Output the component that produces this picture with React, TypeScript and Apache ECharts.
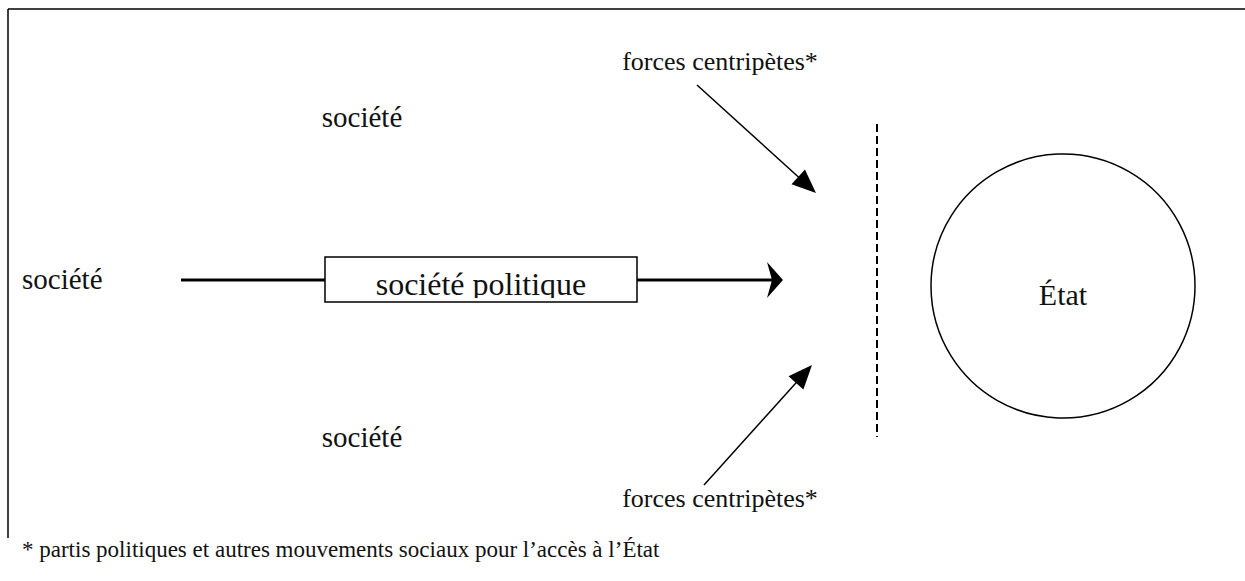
import React, { useEffect, useRef } from "react";
import * as echarts from "echarts";

const societyLabels = ["société", "société", "société"];
const boxLabel = "société politique";
const stateLabel = "État";
const forcesLabels = ["forces centripètes*", "forces centripètes*"];
const footnote = "* partis politiques et autres mouvements sociaux pour l’accès à l’État";

const FONT = "\"Liberation Serif\", \"Times New Roman\", serif";

function arrowHead(tx: number, ty: number, fx: number, fy: number, len: number, half: number) {
  const dx = tx - fx, dy = ty - fy;
  const d = Math.hypot(dx, dy);
  const ux = dx / d, uy = dy / d;
  const bx = tx - ux * len, by = ty - uy * len;
  return [
    [tx, ty],
    [bx - uy * half, by + ux * half],
    [bx + uy * half, by - ux * half],
  ];
}

export default function App() {
  const ref = useRef<HTMLDivElement>(null);
  useEffect(() => {
    document.body.style.margin = "0";
    const chart = echarts.init(ref.current!, null, { renderer: "svg" });
    const black = "#000";
    const txt = (text: string, x: number, y: number, size: number, align = "center") => ({
      type: "text",
      x,
      y,
      style: { text, font: `${size}px ${FONT}`, fill: "#111", align, verticalAlign: "middle" },
    });
    const topFrom = [697, 85], topTo = [816, 193];
    const botFrom = [704, 485], botTo = [812, 365];
    const topHead = arrowHead(topTo[0], topTo[1], topFrom[0], topFrom[1], 24, 10);
    const botHead = arrowHead(botTo[0], botTo[1], botFrom[0], botFrom[1], 24, 10);
    const topLineEnd = [topTo[0] - (topTo[0] - topFrom[0]) * 0.12, topTo[1] - (topTo[1] - topFrom[1]) * 0.12];
    const botLineEnd = [botTo[0] - (botTo[0] - botFrom[0]) * 0.12, botTo[1] - (botTo[1] - botFrom[1]) * 0.12];
    chart.setOption({
      animation: false,
      backgroundColor: "#fff",
      graphic: [
        { type: "line", shape: { x1: 8, y1: 9, x2: 1245, y2: 9 }, style: { stroke: black, lineWidth: 1.5 } },
        { type: "line", shape: { x1: 8, y1: 9, x2: 8, y2: 538 }, style: { stroke: black, lineWidth: 1.5 } },
        { type: "line", shape: { x1: 181, y1: 280, x2: 325, y2: 280 }, style: { stroke: black, lineWidth: 3 } },
        { type: "line", shape: { x1: 637, y1: 280, x2: 772, y2: 280 }, style: { stroke: black, lineWidth: 3 } },
        {
          type: "polygon",
          shape: { points: [[783, 280], [767, 262], [772, 280], [767, 298]] },
          style: { fill: black },
        },
        txt(boxLabel, 481, 284, 32),
        { type: "rect", shape: { x: 326, y: 298, width: 310, height: 20 }, style: { fill: "#fff" } },
        { type: "rect", shape: { x: 325, y: 257, width: 312, height: 45 }, style: { fill: "none", stroke: black, lineWidth: 1.5 } },
        txt(societyLabels[0], 362, 117, 29),
        txt(societyLabels[1], 22, 279, 29, "left"),
        txt(societyLabels[2], 362, 437, 29),
        txt(forcesLabels[0], 720, 61, 26),
        txt(forcesLabels[1], 720, 498, 26),
        { type: "line", shape: { x1: topFrom[0], y1: topFrom[1], x2: topLineEnd[0], y2: topLineEnd[1] }, style: { stroke: black, lineWidth: 1.5 } },
        { type: "polygon", shape: { points: topHead }, style: { fill: black } },
        { type: "line", shape: { x1: botFrom[0], y1: botFrom[1], x2: botLineEnd[0], y2: botLineEnd[1] }, style: { stroke: black, lineWidth: 1.5 } },
        { type: "polygon", shape: { points: botHead }, style: { fill: black } },
        { type: "line", shape: { x1: 877, y1: 124, x2: 877, y2: 437 }, style: { stroke: black, lineWidth: 2, lineDash: [8, 4] } },
        { type: "circle", shape: { cx: 1063, cy: 286, r: 132 }, style: { fill: "none", stroke: black, lineWidth: 1.5 } },
        txt(stateLabel, 1063, 294, 30),
        txt(footnote, 22, 549, 23, "left"),
      ],
    });
    return () => chart.dispose();
  }, []);
  return <div ref={ref} style={{ width: 1245, height: 581 }} />;
}
